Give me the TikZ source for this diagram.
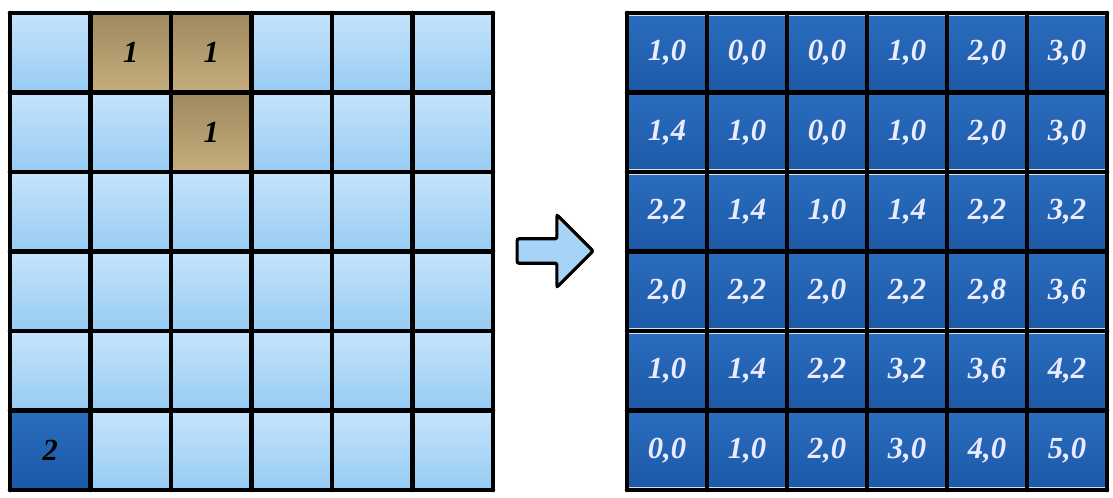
\documentclass[tikz,border=0pt]{standalone}
\usepackage{fontspec}
\setmainfont{Liberation Serif}
\usetikzlibrary{shapes.arrows}
\definecolor{lbTop}{HTML}{C4E3FB}
\definecolor{lbBot}{HTML}{98CCF4}
\definecolor{brTop}{HTML}{A08A5E}
\definecolor{brBot}{HTML}{C4AC7C}
\definecolor{dbTop}{HTML}{2A6CBE}
\definecolor{dbBot}{HTML}{1C5AA8}
\tikzset{
  cell/.style={minimum width=76.5*0.75pt, minimum height=75.5*0.75pt, inner sep=0pt, outer sep=0pt,
     font=\fontsize{23}{24}\selectfont\bfseries\itshape},
  light/.style={cell, top color=lbTop, bottom color=lbBot},
  brown/.style={cell, top color=brTop, bottom color=brBot, text=black},
  dark/.style={cell, top color=dbTop, bottom color=dbBot, text=black},
  res/.style={cell, top color=dbTop, bottom color=dbBot, text=white!92!blue, draw=white!80!dbTop, line width=0.8pt},
  gridline/.style={line width=3.4pt, line cap=round, black},
  bigarrow/.style={single arrow, draw=black, line width=2.4pt, fill=lbBot!85!white,
     minimum height=76*0.75pt, inner sep=8pt, single arrow head extend=18pt,
     single arrow tip angle=90, single arrow head indent=0pt, rounded corners=1.5pt}
}
\begin{document}
\begin{tikzpicture}[x=0.75pt,y=-0.75pt]
\useasboundingbox (0,0) rectangle (1113,497);
% left grid cells
\foreach \r in {1,...,6}{
  \foreach \c in {1,...,6}{
    \node[light] (L\r\c) at ({10+80.5*(\c-0.5)},{13+79.5*(\r-0.5)}) {};
  }
}
\node[brown] (L12b) at (L12) {1};
\node[brown] (L13b) at (L13) {1};
\node[brown] (L23b) at (L23) {1};
\node[dark] (L61b) at (L61) {2};
% left grid lines
\foreach \i in {0,...,6}{
  \draw[gridline] ({10+80.5*\i},13) -- ({10+80.5*\i},490);
  \draw[gridline] (10,{13+79.5*\i}) -- (493,{13+79.5*\i});
}
% right grid
\foreach \v [count=\k from 0] in {{1,0},{0,0},{0,0},{1,0},{2,0},{3,0},
  {1,4},{1,0},{0,0},{1,0},{2,0},{3,0},
  {2,2},{1,4},{1,0},{1,4},{2,2},{3,2},
  {2,0},{2,2},{2,0},{2,2},{2,8},{3,6},
  {1,0},{1,4},{2,2},{3,2},{3,6},{4,2},
  {0,0},{1,0},{2,0},{3,0},{4,0},{5,0}}{
  \pgfmathtruncatemacro{\r}{int(\k/6)+1}
  \pgfmathtruncatemacro{\c}{mod(\k,6)+1}
  \node[res] (R\r\c) at ({627+80*(\c-0.5)},{13+79.5*(\r-0.5)}) {\v};
}
\foreach \i in {0,...,6}{
  \draw[gridline] ({627+80*\i},13) -- ({627+80*\i},490);
  \draw[gridline] (627,{13+79.5*\i}) -- (1107,{13+79.5*\i});
}
% arrow
\node[bigarrow] (arr) at (549,251) {};
\end{tikzpicture}
\end{document}
